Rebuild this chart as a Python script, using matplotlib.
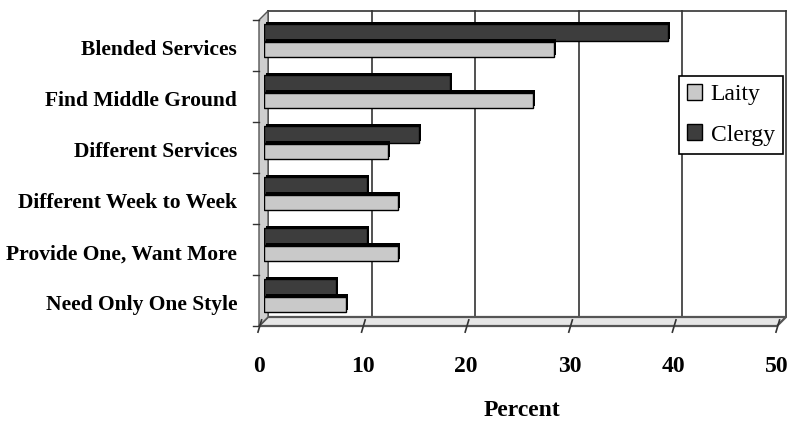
#!/usr/bin/env python3
# Worship style preferences, laity vs clergy, as a horizontal bar chart
# with an Excel-like 3D wall and floor.

import matplotlib
matplotlib.use("Agg")
import matplotlib.pyplot as plt
import matplotlib.patheffects as pe
from matplotlib.patches import Polygon, Patch
from matplotlib.transforms import offset_copy, ScaledTranslation, IdentityTransform

categories = ["Blended Services", "Find Middle Ground", "Different Services",
              "Different Week to Week", "Provide One, Want More",
              "Need Only One Style"]
clergy = [39, 18, 15, 10, 10, 7]
laity = [28, 26, 12, 13, 13, 8]
xticks = [0, 10, 20, 30, 40, 50]

DARK = "#3d3d3d"
LIGHT = "#c9c9c9"
LINE = "#333333"
FONT = "Liberation Serif"
DEPTH = 4.5   # half the depth of the 3D box, in pixels

W, H = 792, 421
fig = plt.figure(figsize=(W / 100, H / 100), dpi=100)
ax = fig.add_axes([263.5 / W, 1 - 321.5 / H, (781.5 - 263.5) / W, 306 / H])
ax.set_xlim(0, 50)
ax.set_ylim(5.5, -0.5)
for s in ax.spines.values():
    s.set_visible(False)

back = offset_copy(ax.transData, fig=fig, x=DEPTH, y=DEPTH, units="dots")
front = offset_copy(ax.transData, fig=fig, x=-DEPTH, y=-DEPTH, units="dots")

# back wall: gridlines plus top edge
for x in xticks:
    ax.plot([x, x], [-0.5, 5.5], color=LINE, lw=1.2, transform=back,
            clip_on=False, zorder=1)
ax.plot([0, 50], [-0.5, -0.5], color=LINE, lw=1.2, transform=back,
        clip_on=False, zorder=1)

# floor
fl_back = [back.transform((0, 5.5)), back.transform((50, 5.5))]
fl_front = [front.transform((50, 5.5)), front.transform((0, 5.5))]
floor = Polygon(fl_back + fl_front, closed=True, transform=IdentityTransform(),
                facecolor="#e6e6e6", edgecolor="#555555", lw=1.6,
                clip_on=False, zorder=1)
ax.add_patch(floor)

# left wall
wall = Polygon([back.transform((0, 5.5)), back.transform((0, -0.5)),
                front.transform((0, -0.5)), front.transform((0, 5.5))],
               closed=True, transform=IdentityTransform(), facecolor="#cfcfcf",
               edgecolor="#555555", lw=1.0, clip_on=False, zorder=1)
ax.add_patch(wall)

# small ticks on the front edges
for k in range(7):
    ax.plot([-0.55, 0], [k - 0.5, k - 0.5], color=LINE, lw=1.0,
            transform=front, clip_on=False, zorder=2)
for x in xticks:
    ax.plot([x - 0.1, x + 0.25], [5.62, 5.38], color=LINE, lw=1.2,
            transform=front, clip_on=False, zorder=2)

# bars
pos = list(range(len(categories)))
shadow = [pe.SimplePatchShadow(offset=(1.5, 1.5), shadow_rgbFace="black",
                               alpha=1.0), pe.Normal()]
ax.barh([p - 0.16 for p in pos], clergy, height=0.33, color=DARK,
        edgecolor="black", lw=1.0, path_effects=shadow, zorder=3)
ax.barh([p + 0.16 for p in pos], laity, height=0.30, color=LIGHT,
        edgecolor="black", lw=1.0, path_effects=shadow, zorder=3)

# tick labels
ax.set_yticks(pos)
ax.set_yticklabels(categories, fontfamily=FONT, fontweight="bold",
                   fontsize=15.5)
ax.tick_params(axis="y", length=0, pad=19)
for lab in ax.get_yticklabels():
    lab.set_transform(lab.get_transform() +
                      ScaledTranslation(0, -5 / 72, fig.dpi_scale_trans))

ax.set_xticks(xticks)
ax.set_xticklabels([str(x) for x in xticks], fontfamily=FONT,
                   fontweight="bold", fontsize=17)
ax.tick_params(axis="x", length=0, pad=25)
for lab in ax.get_xticklabels():
    lab.set_transform(lab.get_transform() +
                      ScaledTranslation(-DEPTH / 100, 0, fig.dpi_scale_trans))

fig.text(522 / W, 1 - 410 / H, "Percent", ha="center", va="center",
         fontfamily=FONT, fontweight="bold", fontsize=17)

handles = [Patch(facecolor=LIGHT, edgecolor="black", lw=1.0),
           Patch(facecolor=DARK, edgecolor="black", lw=1.0)]
leg = ax.legend(handles, ["Laity", "Clergy"], loc="upper right",
                bbox_to_anchor=(783 / W, 1 - 76 / H),
                bbox_transform=fig.transFigure, borderaxespad=0,
                fancybox=False, edgecolor="black", framealpha=1,
                prop={"family": FONT, "size": 17}, handlelength=0.65,
                handleheight=0.65, handletextpad=0.35, borderpad=0.35,
                labelspacing=0.8)
leg.get_frame().set_linewidth(1.2)
leg.set_zorder(5)

fig.savefig("out.png", dpi=100)
